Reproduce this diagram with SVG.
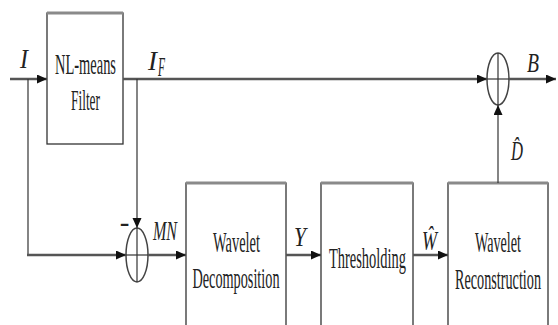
<svg xmlns="http://www.w3.org/2000/svg" width="558" height="325" viewBox="0 0 558 325">
<style>
.box{fill:#fff;stroke:#333;stroke-width:1.3}
.top{stroke:#8a8a8a;stroke-width:3}
.thick{stroke:#555;stroke-width:2.6;fill:none}
.thin{stroke:#333;stroke-width:1.2;fill:none}
.sum{fill:none;stroke:#444;stroke-width:1.5}
.t{font-family:"Liberation Serif","Times New Roman",serif;font-size:29px;fill:#222;text-anchor:middle}
.i{font-family:"Liberation Serif","Times New Roman",serif;font-size:27px;font-style:italic;fill:#222}
</style>
<defs>
<marker id="ah" markerUnits="userSpaceOnUse" markerWidth="11" markerHeight="10" refX="10" refY="4.5" orient="auto">
<path d="M0,0 L10,4.5 L0,9 z" fill="#111"/>
</marker>
</defs>
<g id="nlmeans">
<rect class="box" x="47" y="13" width="76" height="131"/>
<line class="top" x1="47" y1="13" x2="123" y2="13"/>
<text class="t" x="85.5" y="74" textLength="61" lengthAdjust="spacingAndGlyphs">NL-means</text>
<text class="t" x="85.5" y="110" textLength="29" lengthAdjust="spacingAndGlyphs">Filter</text>
</g>
<g id="decomp">
<rect class="box" x="186" y="183" width="100" height="160"/>
<line class="top" x1="186" y1="183" x2="286" y2="183"/>
<text class="t" x="236.5" y="252" textLength="47" lengthAdjust="spacingAndGlyphs">Wavelet</text>
<text class="t" x="236" y="288" textLength="87" lengthAdjust="spacingAndGlyphs">Decomposition</text>
</g>
<g id="thresh">
<rect class="box" x="321" y="183" width="92" height="160"/>
<line class="top" x1="321" y1="183" x2="413" y2="183"/>
<text class="t" x="367.5" y="268" textLength="77" lengthAdjust="spacingAndGlyphs">Thresholding</text>
</g>
<g id="recon">
<rect class="box" x="448" y="183" width="100" height="160"/>
<line class="top" x1="448" y1="183" x2="548" y2="183"/>
<text class="t" x="498" y="252" textLength="46" lengthAdjust="spacingAndGlyphs">Wavelet</text>
<text class="t" x="498" y="289" textLength="86" lengthAdjust="spacingAndGlyphs">Reconstruction</text>
</g>
<g id="sum1">
<ellipse class="sum" cx="137" cy="255" rx="11" ry="27"/>
<line class="thin" x1="126" y1="255" x2="148" y2="255"/>
<line class="thin" x1="137" y1="228" x2="137" y2="282"/>
<text class="t" x="124.5" y="232" font-size="24">-</text>
</g>
<g id="sum2">
<ellipse class="sum" cx="498" cy="79" rx="11" ry="26"/>
<line class="thin" x1="487" y1="79" x2="509" y2="79"/>
<line class="thin" x1="498" y1="53" x2="498" y2="105"/>
</g>
<g id="connectors">
<line class="thick" x1="10" y1="79" x2="47" y2="79" marker-end="url(#ah)"/>
<line class="thick" x1="123" y1="79" x2="487" y2="79" marker-end="url(#ah)"/>
<line class="thick" x1="509" y1="79" x2="556" y2="79" marker-end="url(#ah)"/>
<line class="thin" x1="28" y1="79" x2="28" y2="255"/>
<line class="thick" x1="27" y1="255" x2="126" y2="255" marker-end="url(#ah)"/>
<line class="thin" x1="137" y1="79" x2="137" y2="228" marker-end="url(#ah)"/>
<line class="thick" x1="148" y1="255" x2="186" y2="255" marker-end="url(#ah)"/>
<line class="thick" x1="286" y1="255" x2="321" y2="255" marker-end="url(#ah)"/>
<line class="thick" x1="413" y1="255" x2="448" y2="255" marker-end="url(#ah)"/>
<line class="thin" x1="498" y1="183" x2="498" y2="105" marker-end="url(#ah)"/>
</g>
<g id="labels">
<text class="i" x="20" y="68" textLength="8" lengthAdjust="spacingAndGlyphs">I</text>
<text class="i" x="148" y="70" textLength="9" lengthAdjust="spacingAndGlyphs">I</text>
<text class="i" x="158" y="76" font-size="17" textLength="7" lengthAdjust="spacingAndGlyphs">F</text>
<text class="i" x="153" y="240" textLength="24" lengthAdjust="spacingAndGlyphs">MN</text>
<text class="i" x="294" y="246" textLength="12" lengthAdjust="spacingAndGlyphs">Y</text>
<text class="i" x="422" y="250" textLength="15" lengthAdjust="spacingAndGlyphs">Ŵ</text>
<text class="i" x="527" y="72" textLength="12" lengthAdjust="spacingAndGlyphs">B</text>
<text class="i" x="511" y="160" textLength="12" lengthAdjust="spacingAndGlyphs">D̂</text>
</g>
</svg>
